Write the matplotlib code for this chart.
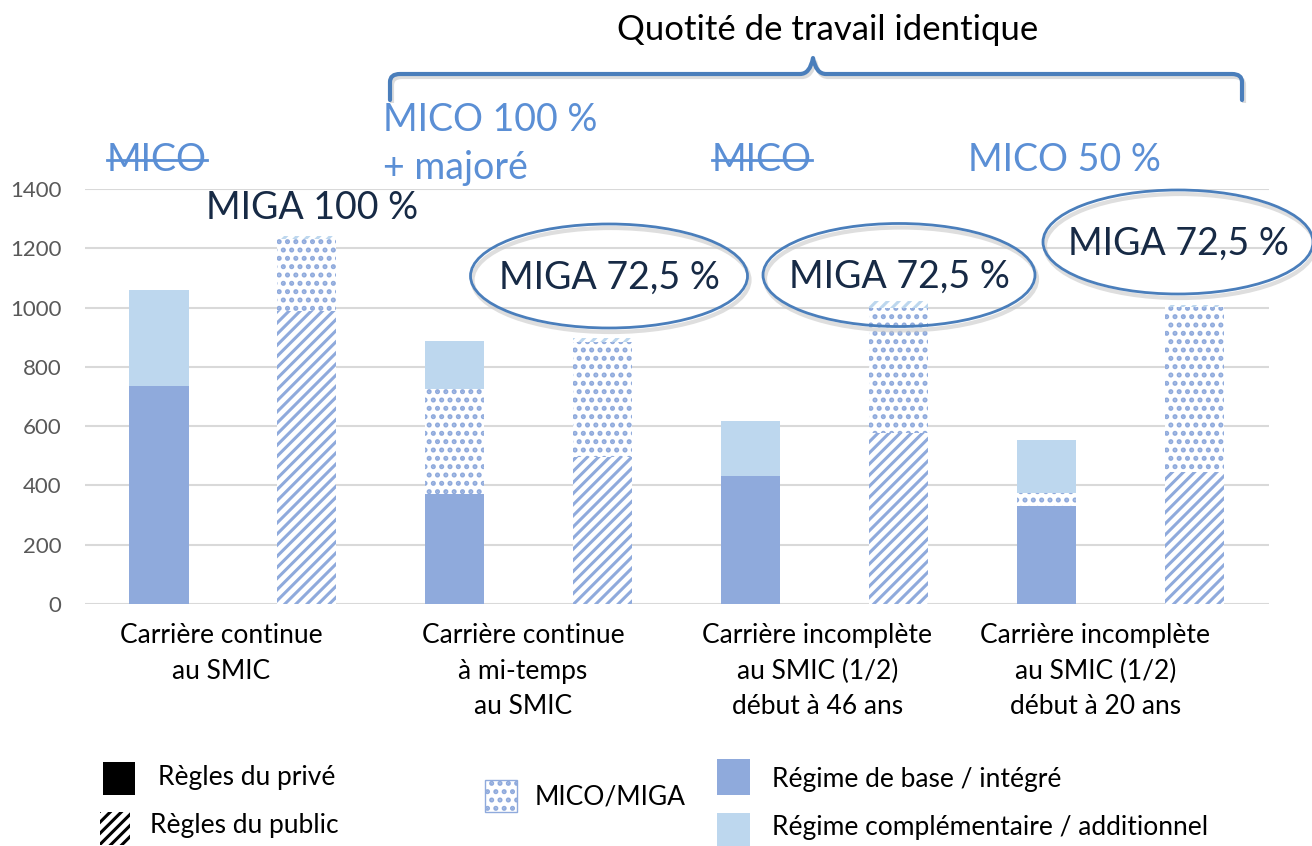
import matplotlib
matplotlib.use("Agg")
import matplotlib.pyplot as plt
from matplotlib.patches import Rectangle, Ellipse, PathPatch
from matplotlib.path import Path
import numpy as np

plt.rcParams["font.family"] = ["Lato", "DejaVu Sans"]
plt.rcParams["hatch.linewidth"] = 2.2

categories = ["Carrière continue\nau SMIC",
              "Carrière continue\nà mi-temps\nau SMIC",
              "Carrière incomplète\nau SMIC (1/2)\ndébut à 46 ans",
              "Carrière incomplète\nau SMIC (1/2)\ndébut à 20 ans"]
# règles du privé
prive_base = [735, 371, 432, 331]
prive_mico = [0, 354, 0, 44]
prive_compl = [324, 162, 185, 178]
# règles du public
public_base = [990, 496, 577, 445]
public_miga = [240, 388, 422, 557]
public_add = [12, 13, 23, 6]

yticks = [0, 200, 400, 600, 800, 1000, 1200, 1400]

BASE = "#8FAADC"
COMPL = "#BDD7EE"
DOTS = "#8FAADC"
BLUE_TXT = "#5B8FD5"
NAVY = "#172A45"
LINE = "#4A7EBB"

W, H = 1312, 846
fig = plt.figure(figsize=(W / 100, H / 100), dpi=100)
ax = fig.add_axes([85 / W, 1 - 604 / H, 1183.5 / W, 415 / H])

x = np.arange(len(categories))
bw = 0.2
xa = x - 0.25
xb = x + 0.25

pb = np.array(prive_base)
pm = np.array(prive_mico)
pc = np.array(prive_compl)
ub = np.array(public_base)
um = np.array(public_miga)
ua = np.array(public_add)


def dotted(bars):
    # thicker strokes make the dot texture closer to the office pattern
    for p in bars:
        if hasattr(p, "set_hatch_linewidth"):
            p.set_hatch_linewidth(2.4)


# private rules
ax.bar(xa, pb, bw, color=BASE, zorder=3)
dotted(ax.bar(xa, pm, bw, bottom=pb, facecolor="white", edgecolor=DOTS, linewidth=0,
              hatch="..", zorder=3))
ax.bar(xa, pc, bw, bottom=pb + pm, color=COMPL, zorder=3)
# public rules
ax.bar(xb, ub, bw, facecolor="white", edgecolor=BASE, linewidth=0, hatch="///", zorder=3)
dotted(ax.bar(xb, um, bw, bottom=ub, facecolor="white", edgecolor=DOTS, linewidth=0,
              hatch="..", zorder=3))
ax.bar(xb, ua, bw, bottom=ub + um, facecolor="white", edgecolor=COMPL, linewidth=0,
       hatch="///", zorder=3)

ax.set_xlim(-0.5, 3.5)
ax.set_ylim(0, 1400)
ax.set_yticks(yticks)
ax.set_yticklabels([str(v) for v in yticks], fontsize=16, color="#595959")
ax.grid(axis="y", color="#D9D9D9", linewidth=1.5, zorder=0)
for s in ax.spines.values():
    s.set_visible(False)
ax.tick_params(axis="y", length=0, pad=17)
ax.tick_params(axis="x", length=0, pad=14)
label_shift = [-0.04, -0.02, -0.025, -0.085]
ax.set_xticks(x + np.array(label_shift))
ax.set_xticklabels(categories, fontsize=19, linespacing=1.52, color="black")

# overlay in pixel coordinates for annotations and legend
ov = fig.add_axes([0, 0, 1, 1], zorder=5)
ov.set_xlim(0, W)
ov.set_ylim(H, 0)
ov.axis("off")
ov.patch.set_alpha(0)

# brace
verts = [(390, 100), (390, 82), (390, 74), (400, 74), (800, 74), (810, 74), (813, 58),
         (816, 74), (826, 74), (1232, 74), (1242, 74), (1242, 82), (1242, 100)]
codes = [Path.MOVETO, Path.LINETO, Path.CURVE3, Path.CURVE3, Path.LINETO, Path.CURVE3,
         Path.CURVE3, Path.CURVE3, Path.CURVE3, Path.LINETO, Path.CURVE3, Path.CURVE3,
         Path.LINETO]
ov.add_patch(PathPatch(Path([(vx + 2, vy + 3) for vx, vy in verts], codes),
                       fill=False, edgecolor="#BBBBBB", linewidth=3, alpha=0.5))
ov.add_patch(PathPatch(Path(verts, codes), fill=False, edgecolor=LINE, linewidth=3,
                       capstyle="round", joinstyle="round"))
ov.text(828, 30, "Quotité de travail identique", fontsize=25, ha="center", va="center",
        color="black")


# MICO annotations
def struck(xc, yc, txt):
    t = ov.text(xc, yc, txt, fontsize=27, ha="center", va="center", color=BLUE_TXT)
    ov.plot([xc - 50, xc + 50], [yc, yc], color=BLUE_TXT, linewidth=2)
    return t


struck(157, 160, "MICO")
struck(762, 160, "MICO")
ov.text(383, 120, "MICO 100 %", fontsize=27, ha="left", va="center", color=BLUE_TXT)
ov.text(383, 168, "+ majoré", fontsize=27, ha="left", va="center", color=BLUE_TXT)
ov.text(1064, 160, "MICO 50 %", fontsize=27, ha="center", va="center", color=BLUE_TXT)
ov.text(312, 208, "MIGA 100 %", fontsize=27, ha="center", va="center", color=NAVY)

for (cx, cy, ew, eh) in [(609, 276, 277, 104), (899, 275, 272, 103), (1178, 242, 270, 104)]:
    ov.add_patch(Ellipse((cx + 2, cy + 4), ew, eh, fill=False, edgecolor="#C8C8C8",
                         linewidth=3, alpha=0.6))
    ov.add_patch(Ellipse((cx, cy), ew, eh, fill=False, edgecolor=LINE, linewidth=2))
    ov.text(cx, cy + 2, "MIGA 72,5 %", fontsize=27, ha="center", va="center", color=NAVY)

# legend
ov.add_patch(Rectangle((103, 762), 32, 33, facecolor="black", edgecolor="none"))
ov.text(158, 778, "Règles du privé", fontsize=19, va="center")
ov.add_patch(Rectangle((100, 812), 30, 33, facecolor="white", edgecolor="black",
                       linewidth=0, hatch="///"))
ov.text(150, 826, "Règles du public", fontsize=19, va="center")
leg_dots = Rectangle((485, 780), 32, 32, facecolor="white", edgecolor=DOTS,
                     linewidth=1, hatch="..")
dotted([leg_dots])
ov.add_patch(leg_dots)
ov.text(535, 797, "MICO/MIGA", fontsize=19, va="center")
ov.add_patch(Rectangle((717, 759), 33, 36, facecolor=BASE, edgecolor="none"))
ov.text(772, 779, "Régime de base / intégré", fontsize=19, va="center")
ov.add_patch(Rectangle((717, 813), 33, 33, facecolor=COMPL, edgecolor="none"))
ov.text(772, 828, "Régime complémentaire / additionnel", fontsize=19, va="center")

fig.savefig("out.png", dpi=100)
